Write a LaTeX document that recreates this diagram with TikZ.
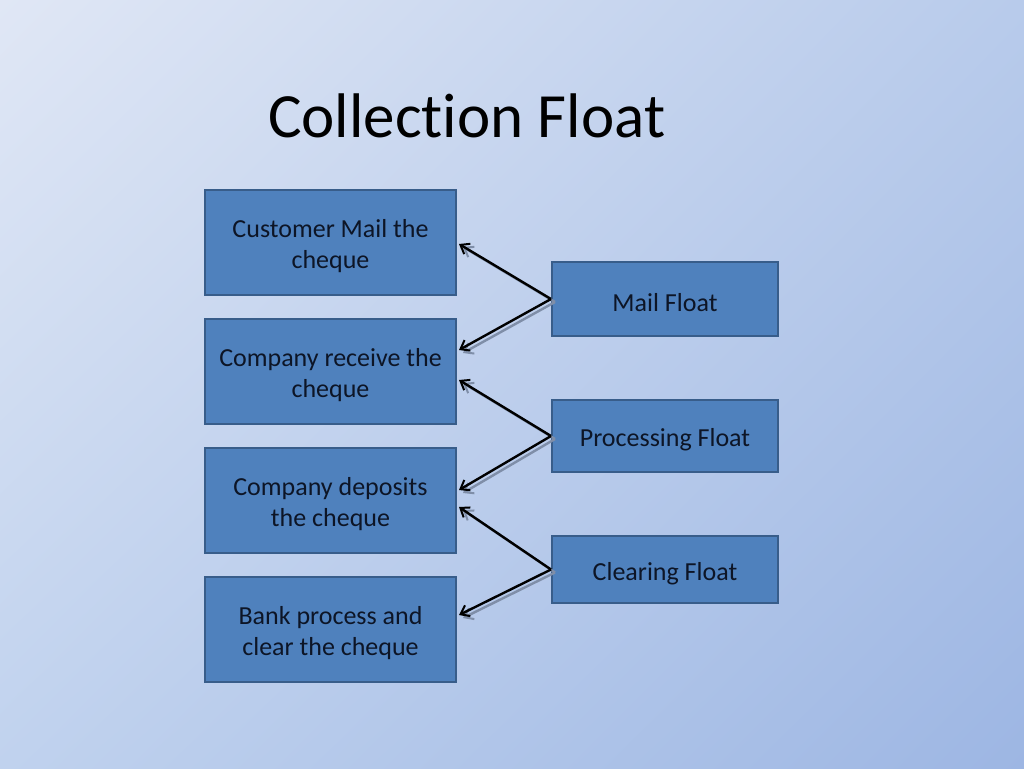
\documentclass[tikz,border=0pt]{standalone}
\usepackage{fontspec}
\setmainfont[Ligatures=NoCommon]{Carlito}
\usetikzlibrary{arrows.meta,calc,shadings}
\definecolor{bgTL}{HTML}{E0E7F5}
\definecolor{bgTR}{HTML}{B8CBEB}
\definecolor{bgBL}{HTML}{C0D2EE}
\definecolor{bgBR}{HTML}{9DB6E3}
\definecolor{boxfill}{HTML}{4F81BD}
\definecolor{boxline}{HTML}{385D8A}
\definecolor{txt}{HTML}{0D1526}
\definecolor{shadowc}{HTML}{7F8EA8}
\tikzset{
  boxtext/.style={align=center, text=txt, font=\fontsize{26}{31}\selectfont, inner sep=0pt, yshift=-4pt},
  leftbox/.style={draw=boxline, line width=2pt, fill=boxfill, minimum width=251pt, minimum height=105pt, inner sep=0pt},
  rightbox/.style={draw=boxline, line width=2pt, fill=boxfill, minimum width=226pt, inner sep=0pt},
  conn/.style={black, line width=2.4pt, -{Straight Barb[length=8pt,width=12pt,line width=2pt]}},
  connshadow/.style={shadowc, line width=2.4pt, -{Straight Barb[length=8pt,width=12pt,line width=2pt]}, transform canvas={xshift=4pt,yshift=-3pt}}
}
\begin{document}
\begin{tikzpicture}[x=1pt,y=-1pt]
\shade[upper left=bgTL, upper right=bgTR, lower left=bgBL, lower right=bgBR] (0,0) rectangle (1024,768);
\useasboundingbox (0,0) rectangle (1024,768);
\node[anchor=base west, inner sep=0pt, text=black, font=\fontsize{63}{70}\selectfont] (title) at (268,137) {Collection Float};
\node[leftbox, label={[boxtext]center:{Customer Mail the\\cheque}}] (c1) at (330.5,242.5) {};
\node[leftbox, label={[boxtext]center:{Company receive the\\cheque}}] (c2) at (330.5,371.5) {};
\node[leftbox, label={[boxtext]center:{Company deposits\\the cheque}}] (c3) at (330.5,500.5) {};
\node[leftbox, label={[boxtext]center:{Bank process and\\clear the cheque}}] (c4) at (330.5,629.5) {};
\node[rightbox, minimum height=74pt, label={[boxtext]center:{Mail Float}}] (f1) at (665,299) {};
\node[rightbox, minimum height=72pt, label={[boxtext]center:{Processing Float}}] (f2) at (665,436) {};
\node[rightbox, minimum height=67pt, label={[boxtext]center:{Clearing Float}}] (f3) at (665,569.5) {};
\coordinate (t1a) at ($(c1.east)+(2,1.5)$);
\coordinate (t1b) at ($(c2.east)+(2,-21.5)$);
\coordinate (t2a) at ($(c2.east)+(2,8.5)$);
\coordinate (t2b) at ($(c3.east)+(2,-10.5)$);
\coordinate (t3a) at ($(c3.east)+(2,6.5)$);
\coordinate (t3b) at ($(c4.east)+(2,-14.5)$);
\foreach \f/\a/\b in {f1/t1a/t1b, f2/t2a/t2b, f3/t3a/t3b}{
  \draw[connshadow] (\f.west) -- (\a);
  \draw[connshadow] (\f.west) -- (\b);
}
\foreach \f/\a/\b in {f1/t1a/t1b, f2/t2a/t2b, f3/t3a/t3b}{
  \draw[conn] (\f.west) -- (\a);
  \draw[conn] (\f.west) -- (\b);
}
\end{tikzpicture}
\end{document}
